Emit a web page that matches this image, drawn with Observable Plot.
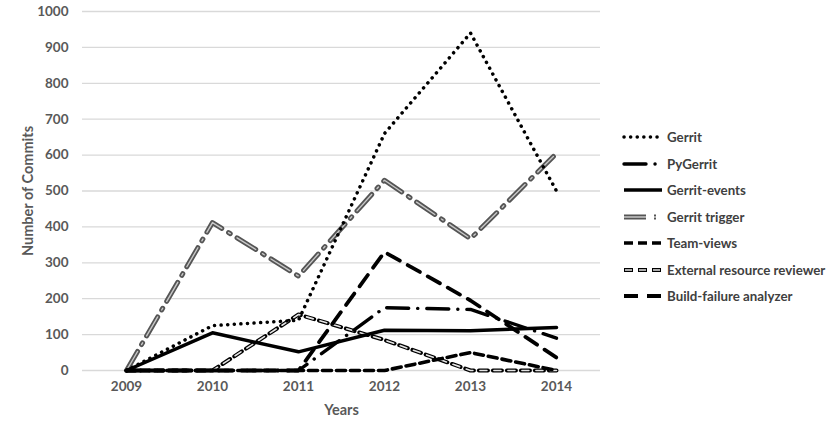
<!DOCTYPE html>
<html>
<head>
<meta charset="utf-8">
<script src="https://cdn.jsdelivr.net/npm/d3@7"></script>
<script src="https://cdn.jsdelivr.net/npm/@observablehq/plot@0.6"></script>
<style>
  body { margin: 0; background: #fff; }
  #wrap { position: relative; width: 830px; height: 438px; background: #fff; }
  #legend { position: absolute; left: 622px; top: 124px; font-family: Lato, sans-serif; font-weight: bold; font-size: 13.3px; color: #404040; }
  .row { height: 26.5px; display: flex; align-items: center; }
  .row svg { width: 42px; height: 12px; margin-right: 3px; flex: none; }
  g[aria-label="y-axis label"] text, g[aria-label="x-axis label"] text { font-size: 14.5px; }
</style>
</head>
<body>
<div id="wrap">
  <div id="chart"></div>
  <div id="legend"></div>
</div>
<script>
// ---- data ----
const years = ["2009", "2010", "2011", "2012", "2013", "2014"];
const yTicks = [0, 100, 200, 300, 400, 500, 600, 700, 800, 900, 1000];
const seriesNames = ["Gerrit", "PyGerrit", "Gerrit-events", "Gerrit trigger", "Team-views", "External resource reviewer", "Build-failure analyzer"];
const gerrit = [0, 125, 140, 660, 940, 500];
const pyGerrit = [0, 0, 0, 175, 170, 90];
const gerritEvents = [0, 105, 52, 112, 111, 120];
const gerritTrigger = [0, 412, 263, 530, 367, 605];
const teamViews = [0, 0, 0, 0, 50, 0];
const externalReviewer = [0, 0, 156, 85, 0, 0];
const buildFailure = [0, 0, 0, 330, 195, 36];

const rows = v => years.map((y, i) => ({year: y, value: v[i]}));

// ---- styles (per series, list of stroke layers) ----
const styles = {
  "Gerrit": [{stroke: "#000", strokeWidth: 3.5, strokeDasharray: "0.1,6.5", strokeLinecap: "round"}],
  "PyGerrit": [{stroke: "#000", strokeWidth: 3.4, strokeDasharray: "22,9,0.1,9", strokeLinecap: "round"}],
  "Gerrit-events": [{stroke: "#000", strokeWidth: 3.5}],
  "Gerrit trigger": [
    {stroke: "#555", strokeWidth: 5, strokeDasharray: "22,8,2,8"},
    {stroke: "#c8c8c8", strokeWidth: 1.4, strokeDasharray: "22,8,2,8"}
  ],
  "Team-views": [{stroke: "#000", strokeWidth: 3.6, strokeDasharray: "9,5"}],
  "External resource reviewer": [
    {stroke: "#000", strokeWidth: 4, strokeDasharray: "9,5"},
    {stroke: "#e4e4e4", strokeWidth: 1.6, strokeDasharray: "7,7", strokeDashoffset: -1}
  ],
  "Build-failure analyzer": [{stroke: "#000", strokeWidth: 3.8, strokeDasharray: "14,9"}]
};
const seriesData = {
  "Gerrit": gerrit,
  "PyGerrit": pyGerrit,
  "Gerrit-events": gerritEvents,
  "Gerrit trigger": gerritTrigger,
  "Team-views": teamViews,
  "External resource reviewer": externalReviewer,
  "Build-failure analyzer": buildFailure
};
const drawOrder = ["Gerrit trigger", "External resource reviewer", "Team-views", "Gerrit-events", "PyGerrit", "Build-failure analyzer", "Gerrit"];

const lineMarks = [];
for (const name of drawOrder) {
  for (const s of styles[name]) {
    lineMarks.push(Plot.line(rows(seriesData[name]), {x: "year", y: "value", strokeLinejoin: "round", ...s}));
  }
}

const chart = Plot.plot({
  width: 610,
  height: 438,
  marginLeft: 82,
  marginRight: 10,
  marginTop: 11,
  marginBottom: 68,
  style: {fontFamily: "Lato, sans-serif", fontSize: "13.5px", fontWeight: "bold", color: "#595959", background: "#fff"},
  x: {type: "point", domain: years, padding: 0.5},
  y: {domain: [0, 1000]},
  marks: [
    Plot.gridY(yTicks, {stroke: "#d9d9d9", strokeOpacity: 1, strokeWidth: 1.3}),
    Plot.axisY(yTicks, {tickSize: 0, tickPadding: 14, tickFormat: d => String(d), label: "Number of Commits", labelAnchor: "center", labelOffset: 60, labelArrow: "none", fontSize: 13.5}),
    Plot.axisX({tickSize: 0, tickPadding: 11, label: "Years", labelAnchor: "center", labelOffset: 44, labelArrow: "none", fontSize: 13.5}),
    ...lineMarks
  ]
});
document.getElementById("chart").appendChild(chart);

// ---- legend ----
const legend = document.getElementById("legend");
const ns = "http://www.w3.org/2000/svg";
for (const name of seriesNames) {
  const row = document.createElement("div");
  row.className = "row";
  const svg = document.createElementNS(ns, "svg");
  for (const s of styles[name]) {
    const l = document.createElementNS(ns, "line");
    l.setAttribute("x1", 2); l.setAttribute("x2", 40);
    l.setAttribute("y1", 6); l.setAttribute("y2", 6);
    l.setAttribute("stroke", s.stroke);
    l.setAttribute("stroke-width", s.strokeWidth);
    if (s.strokeDasharray) l.setAttribute("stroke-dasharray", s.strokeDasharray);
    if (s.strokeDashoffset) l.setAttribute("stroke-dashoffset", s.strokeDashoffset);
    if (s.strokeLinecap) l.setAttribute("stroke-linecap", s.strokeLinecap);
    svg.appendChild(l);
  }
  const t = document.createElement("span");
  t.textContent = name;
  row.appendChild(svg);
  row.appendChild(t);
  legend.appendChild(row);
}
</script>
</body>
</html>
